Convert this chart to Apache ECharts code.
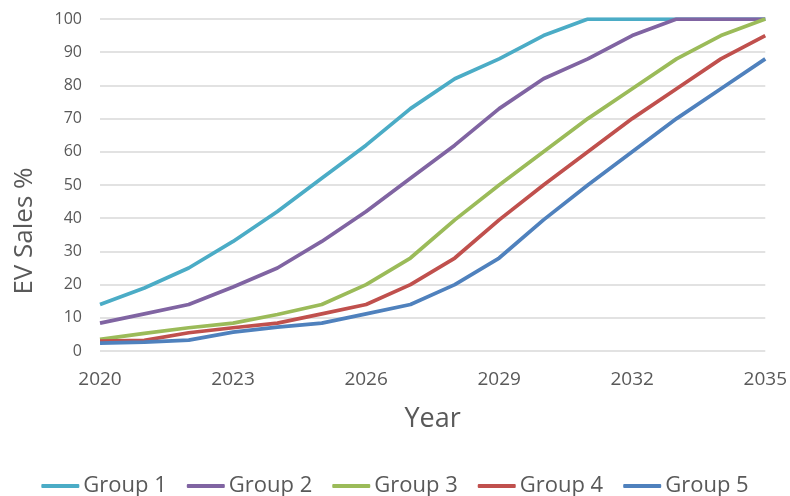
<!DOCTYPE html>
<html><head><meta charset="utf-8">
<script src="https://cdn.jsdelivr.net/npm/echarts@6/dist/echarts.min.js"></script>
<style>html,body{margin:0;padding:0;background:#fff}#c{width:790px;height:496px}</style>
</head><body><div id="c"></div>
<script>
const years = [2020,2021,2022,2023,2024,2025,2026,2027,2028,2029,2030,2031,2032,2033,2034,2035];
const seriesNames = ['Group 1','Group 2','Group 3','Group 4','Group 5'];
const group1 = [14,19,25,33,42,52,62,73,82,88,95,100,100,100,100,100];
const group2 = [8.4,11.2,14,19.3,25,33,42,52,62,73,82,88,95,100,100,100];
const group3 = [3.5,5.3,7,8.4,11,14,20,28,39.5,50,60,70,79,88,95,100];
const group4 = [3,3.2,5.5,7,8.4,11.2,14,20,28,39.5,50,60,70,79,88,95];
const group5 = [2.4,2.7,3.3,5.7,7.2,8.4,11.2,14,20,28,39.5,50,60,70,79,88];
const colors = ['#4BACC6','#8064A2','#9BBB59','#C0504D','#4F81BD'];
const allData = [group1,group2,group3,group4,group5];

const font = '"Open Sans", sans-serif';
const chart = echarts.init(document.getElementById('c'));
chart.setOption({
  animation:false,
  color: colors,
  textStyle:{fontFamily:font},
  grid:{left:100,right:23,top:19,bottom:145},
  legend:{
    top:470, left:'center', itemWidth:38, itemHeight:4, itemGap:20,
    icon:'roundRect',
    textStyle:{fontSize:22,color:'#595959',fontFamily:font,padding:[0,0,0,-1]},
    data: seriesNames
  },
  xAxis:{
    type:'value', min:2020, max:2035, interval:3,
    name:'Year', nameLocation:'middle', nameGap:55,
    nameTextStyle:{fontSize:27,color:'#595959',fontFamily:font},
    axisLine:{show:false}, axisTick:{show:false}, splitLine:{show:false},
    axisLabel:{fontSize:19,color:'#595959',margin:19,fontFamily:font,formatter:v=>String(v)}
  },
  yAxis:{
    type:'value', min:0, max:100, interval:10,
    name:'EV Sales %', nameLocation:'middle', nameGap:62,
    nameTextStyle:{fontSize:26,color:'#595959',fontFamily:font,padding:[0,92,0,0]},
    axisLine:{show:false}, axisTick:{show:false},
    splitLine:{lineStyle:{color:'#D9D9D9',width:1.5}},
    axisLabel:{fontSize:16,color:'#595959',margin:18,fontFamily:font}
  },
  series: seriesNames.map((n,i)=>({
    name:n, type:'line', showSymbol:false, symbol:'none',
    lineStyle:{width:3.75,color:colors[i]},
    itemStyle:{color:colors[i]},
    data: years.map((y,j)=>[y, allData[i][j]])
  }))
});
</script></body></html>
